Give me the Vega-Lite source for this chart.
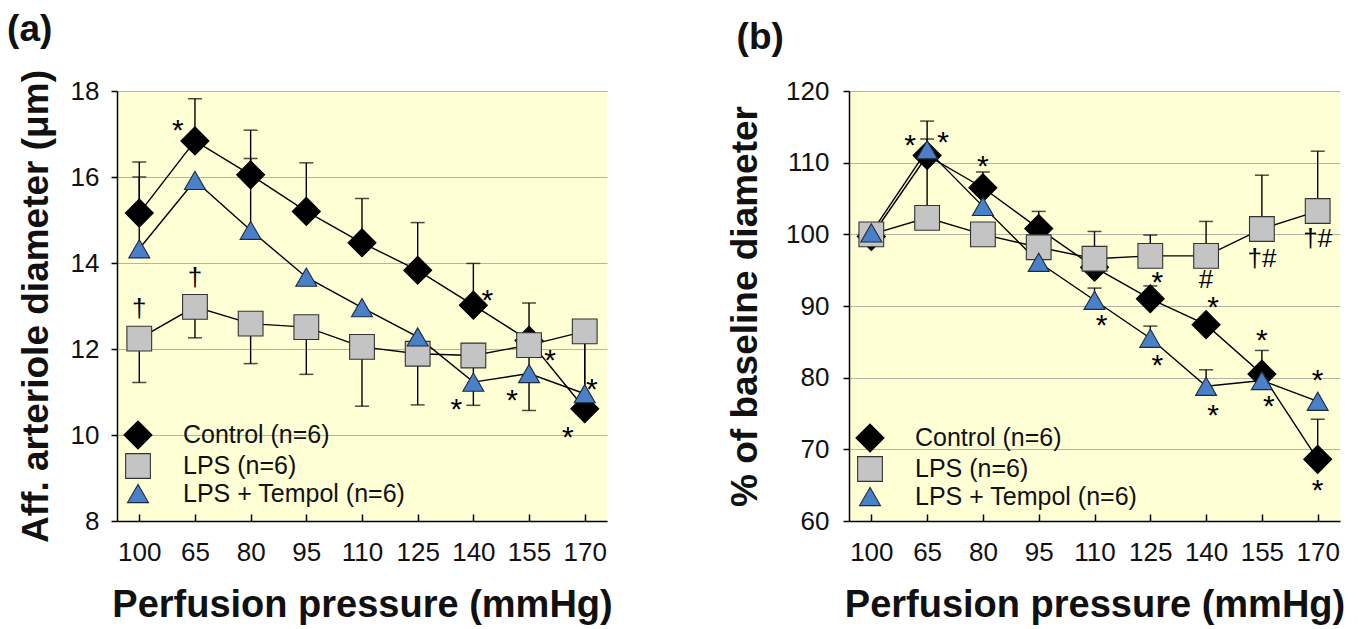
{
  "$schema": "https://vega.github.io/schema/vega-lite/v6.json",
  "background": "white",
  "padding": {"left": 7, "top": 10, "right": 5, "bottom": 2},
  "bounds": "flush",
  "spacing": 242,
  "config": {
    "font": "Liberation Sans",
    "view": {"fill": "#FFFFD5", "stroke": null},
    "axis": {
      "labelFont": "Liberation Sans", "labelFontSize": 26, "labelColor": "#111",
      "titleFont": "Liberation Sans", "titleFontSize": 37, "titleFontWeight": "bold", "titleColor": "#111",
      "domainColor": "#000", "domainWidth": 1.5, "tickColor": "#000", "tickWidth": 1.5,
      "gridColor": "#B4B4A4", "gridWidth": 1.2
    },
    "axisX": {"titleFontSize": 38},
    "legend": {"labelFont": "Liberation Sans", "labelFontSize": 25, "labelColor": "#111", "labelLimit": 0},
    "title": {"font": "Liberation Sans", "fontSize": 37, "fontWeight": "bold", "color": "#111"}
  },
  "resolve": {
    "scale": {"shape": "independent", "fill": "independent", "stroke": "independent", "size": "independent"},
    "legend": {"shape": "independent", "fill": "independent", "stroke": "independent", "size": "independent"}
  },
  "datasets": {
    "a": [
      {"p": "100", "g": "Control (n=6)", "v": 15.16, "err": 16.35},
      {"p": "65", "g": "Control (n=6)", "v": 16.84, "err": 17.82},
      {"p": "80", "g": "Control (n=6)", "v": 16.05, "err": 17.09},
      {"p": "95", "g": "Control (n=6)", "v": 15.2, "err": 16.33},
      {"p": "110", "g": "Control (n=6)", "v": 14.47, "err": 15.5},
      {"p": "125", "g": "Control (n=6)", "v": 13.83, "err": 14.94},
      {"p": "140", "g": "Control (n=6)", "v": 13.02, "err": 13.99},
      {"p": "155", "g": "Control (n=6)", "v": 12.2, "err": 13.07},
      {"p": "170", "g": "Control (n=6)", "v": 10.61, "err": 12.26},
      {"p": "100", "g": "LPS (n=6)", "v": 12.24, "err": 11.22},
      {"p": "65", "g": "LPS (n=6)", "v": 12.98, "err": 12.26},
      {"p": "80", "g": "LPS (n=6)", "v": 12.59, "err": 11.66},
      {"p": "95", "g": "LPS (n=6)", "v": 12.51, "err": 11.41},
      {"p": "110", "g": "LPS (n=6)", "v": 12.05, "err": 10.67},
      {"p": "125", "g": "LPS (n=6)", "v": 11.89, "err": 10.7},
      {"p": "140", "g": "LPS (n=6)", "v": 11.85, "err": 10.69},
      {"p": "155", "g": "LPS (n=6)", "v": 12.09, "err": 10.57},
      {"p": "170", "g": "LPS (n=6)", "v": 12.41},
      {"p": "100", "g": "LPS + Tempol (n=6)", "v": 14.33, "err": 16.0},
      {"p": "65", "g": "LPS + Tempol (n=6)", "v": 15.92},
      {"p": "80", "g": "LPS + Tempol (n=6)", "v": 14.76, "err": 16.43},
      {"p": "95", "g": "LPS + Tempol (n=6)", "v": 13.67},
      {"p": "110", "g": "LPS + Tempol (n=6)", "v": 12.96},
      {"p": "125", "g": "LPS + Tempol (n=6)", "v": 12.28},
      {"p": "140", "g": "LPS + Tempol (n=6)", "v": 11.23},
      {"p": "155", "g": "LPS + Tempol (n=6)", "v": 11.43},
      {"p": "170", "g": "LPS + Tempol (n=6)", "v": 10.96, "err": 12.15}
    ],
    "b": [
      {"p": "100", "g": "Control (n=6)", "v": 99.7},
      {"p": "65", "g": "Control (n=6)", "v": 111.0},
      {"p": "80", "g": "Control (n=6)", "v": 106.5, "err": 108.7},
      {"p": "95", "g": "Control (n=6)", "v": 100.8, "err": 103.2},
      {"p": "110", "g": "Control (n=6)", "v": 95.4},
      {"p": "125", "g": "Control (n=6)", "v": 91.0, "err": 92.8},
      {"p": "140", "g": "Control (n=6)", "v": 87.4},
      {"p": "155", "g": "Control (n=6)", "v": 80.5, "err": 83.8},
      {"p": "170", "g": "Control (n=6)", "v": 68.6, "err": 74.2},
      {"p": "100", "g": "LPS (n=6)", "v": 100.0},
      {"p": "65", "g": "LPS (n=6)", "v": 102.3, "err": 113.3},
      {"p": "80", "g": "LPS (n=6)", "v": 100.0},
      {"p": "95", "g": "LPS (n=6)", "v": 98.2},
      {"p": "110", "g": "LPS (n=6)", "v": 96.6, "err": 100.4},
      {"p": "125", "g": "LPS (n=6)", "v": 97.0, "err": 99.9},
      {"p": "140", "g": "LPS (n=6)", "v": 97.0, "err": 101.8},
      {"p": "155", "g": "LPS (n=6)", "v": 100.75, "err": 108.25},
      {"p": "170", "g": "LPS (n=6)", "v": 103.25, "err": 111.6},
      {"p": "100", "g": "LPS + Tempol (n=6)", "v": 100.2},
      {"p": "65", "g": "LPS + Tempol (n=6)", "v": 111.8, "err": 115.8},
      {"p": "80", "g": "LPS + Tempol (n=6)", "v": 103.9},
      {"p": "95", "g": "LPS + Tempol (n=6)", "v": 96.1, "err": 98.4},
      {"p": "110", "g": "LPS + Tempol (n=6)", "v": 90.8, "err": 92.5},
      {"p": "125", "g": "LPS + Tempol (n=6)", "v": 85.5, "err": 87.2},
      {"p": "140", "g": "LPS + Tempol (n=6)", "v": 78.8, "err": 81.1},
      {"p": "155", "g": "LPS + Tempol (n=6)", "v": 79.6},
      {"p": "170", "g": "LPS + Tempol (n=6)", "v": 76.7}
    ],
    "annA": [
      {"p": "65", "v": 17.2, "t": "*", "s": "l"},
      {"p": "100", "v": 12.94, "t": "†", "s": "c"},
      {"p": "65", "v": 13.64, "t": "†", "s": "c"},
      {"p": "140", "v": 13.25, "t": "*", "s": "r"},
      {"p": "155", "v": 11.87, "t": "*", "s": "rr"},
      {"p": "140", "v": 10.73, "t": "*", "s": "l"},
      {"p": "155", "v": 10.92, "t": "*", "s": "l"},
      {"p": "170", "v": 11.19, "t": "*", "s": "rn"},
      {"p": "170", "v": 10.07, "t": "*", "s": "l"}
    ],
    "annB": [
      {"p": "65", "v": 113.1, "t": "*", "s": "l"},
      {"p": "65", "v": 113.6, "t": "*", "s": "r"},
      {"p": "80", "v": 110.2, "t": "*", "s": "c"},
      {"p": "110", "v": 88.0, "t": "*", "s": "rn"},
      {"p": "125", "v": 94.1, "t": "*", "s": "rn"},
      {"p": "125", "v": 82.4, "t": "*", "s": "rn"},
      {"p": "140", "v": 93.6, "t": "#", "s": "c"},
      {"p": "140", "v": 90.5, "t": "*", "s": "rn"},
      {"p": "140", "v": 75.5, "t": "*", "s": "rn"},
      {"p": "155", "v": 85.9, "t": "*", "s": "c"},
      {"p": "155", "v": 76.7, "t": "*", "s": "rn"},
      {"p": "170", "v": 80.35, "t": "*", "s": "c"},
      {"p": "170", "v": 65.0, "t": "*", "s": "c"},
      {"p": "155", "v": 96.6, "t": "†#", "s": "c"},
      {"p": "170", "v": 99.4, "t": "†#", "s": "c"}
    ]
  },
  "hconcat": [
    {
      "title": {"text": "(a)", "anchor": "start", "frame": "bounds", "dx": -10, "offset": 21},
      "width": 490,
      "height": 430,
      "encoding": {
        "x": {"field": "p", "type": "ordinal", "sort": ["100", "65", "80", "95", "110", "125", "140", "155", "170"],
          "scale": {"type": "point", "padding": 0.4},
          "axis": {"title": "Perfusion pressure (mmHg)", "labelAngle": 0, "tickSize": -7, "labelPadding": 25, "titlePadding": 21, "grid": false}}
      },
      "layer": [
        {
          "data": {"name": "a"},
          "mark": {"type": "line", "color": "#000", "strokeWidth": 1.4},
          "encoding": {
            "y": {"field": "v", "type": "quantitative", "scale": {"domain": [8, 18], "nice": false, "zero": false},
              "axis": {"values": [8, 10, 12, 14, 16, 18], "title": "Aff. arteriole diameter (μm)", "tickSize": 6, "labelPadding": 12, "titlePadding": 15, "grid": true}},
            "detail": {"field": "g"},
            "order": {"value": null}
          }
        },
        {
          "data": {"name": "a"},
          "transform": [{"filter": "datum.err != null"}],
          "mark": {"type": "rule", "color": "#000", "strokeWidth": 1.4},
          "encoding": {"y": {"field": "v", "type": "quantitative"}, "y2": {"field": "err"}}
        },
        {
          "data": {"name": "a"},
          "transform": [{"filter": "datum.err != null"}],
          "mark": {"type": "tick", "color": "#000", "thickness": 1.5, "size": 14},
          "encoding": {"y": {"field": "err", "type": "quantitative"}}
        },
        {
          "data": {"name": "a"},
          "mark": {"type": "point", "filled": true, "opacity": 1, "strokeWidth": 1.1},
          "encoding": {
            "y": {"field": "v", "type": "quantitative"},
            "shape": {"field": "g", "type": "nominal", "scale": {"domain": ["Control (n=6)", "LPS (n=6)", "LPS + Tempol (n=6)"], "range": ["diamond", "square", "triangle-up"]},
              "legend": {"title": null, "orient": "none", "legendX": 6, "legendY": 329, "padding": 0, "rowPadding": -1, "labelOffset": 30, "symbolStrokeWidth": 1.1}},
            "fill": {"field": "g", "type": "nominal", "scale": {"domain": ["Control (n=6)", "LPS (n=6)", "LPS + Tempol (n=6)"], "range": ["#000000", "#C4C4C4", "#4A80C8"]}},
            "stroke": {"field": "g", "type": "nominal", "scale": {"domain": ["Control (n=6)", "LPS (n=6)", "LPS + Tempol (n=6)"], "range": ["#000000", "#333333", "#1E2A3C"]}},
            "size": {"field": "g", "type": "nominal", "scale": {"domain": ["Control (n=6)", "LPS (n=6)", "LPS + Tempol (n=6)"], "range": [784, 441, 600]}}
          }
        },
        {"data": {"name": "annA"}, "transform": [{"filter": "datum.s == 'l' && datum.t == '*'"}], "mark": {"type": "text", "fontSize": 30, "dx": -17, "dy": 6, "color": "#000"}, "encoding": {"y": {"field": "v", "type": "quantitative"}, "text": {"field": "t"}}},
        {"data": {"name": "annA"}, "transform": [{"filter": "datum.s == 'r' && datum.t == '*'"}], "mark": {"type": "text", "fontSize": 30, "dx": 14, "dy": 6, "color": "#000"}, "encoding": {"y": {"field": "v", "type": "quantitative"}, "text": {"field": "t"}}},
        {"data": {"name": "annA"}, "transform": [{"filter": "datum.s == 'rr' && datum.t == '*'"}], "mark": {"type": "text", "fontSize": 30, "dx": 21, "dy": 6, "color": "#000"}, "encoding": {"y": {"field": "v", "type": "quantitative"}, "text": {"field": "t"}}},
        {"data": {"name": "annA"}, "transform": [{"filter": "datum.s == 'rn' && datum.t == '*'"}], "mark": {"type": "text", "fontSize": 30, "dx": 7, "dy": 6, "color": "#000"}, "encoding": {"y": {"field": "v", "type": "quantitative"}, "text": {"field": "t"}}},
        {"data": {"name": "annA"}, "transform": [{"filter": "datum.s == 'c' && datum.t == '*'"}], "mark": {"type": "text", "fontSize": 30, "dx": 0, "dy": 6, "color": "#000"}, "encoding": {"y": {"field": "v", "type": "quantitative"}, "text": {"field": "t"}}},
        {"data": {"name": "annA"}, "transform": [{"filter": "datum.t != '*'"}], "mark": {"type": "text", "fontSize": 26, "dx": 0, "dy": 0, "color": "#000"}, "encoding": {"y": {"field": "v", "type": "quantitative"}, "text": {"field": "t"}}}
      ]
    },
    {
      "title": {"text": "(b)", "anchor": "start", "frame": "bounds", "dx": 10, "offset": 21},
      "width": 491,
      "height": 430,
      "encoding": {
        "x": {"field": "p", "type": "ordinal", "sort": ["100", "65", "80", "95", "110", "125", "140", "155", "170"],
          "scale": {"type": "point", "padding": 0.4},
          "axis": {"title": "Perfusion pressure (mmHg)", "labelAngle": 0, "tickSize": -7, "labelPadding": 25, "titlePadding": 21, "grid": false}}
      },
      "layer": [
        {
          "data": {"name": "b"},
          "mark": {"type": "line", "color": "#000", "strokeWidth": 1.4},
          "encoding": {
            "y": {"field": "v", "type": "quantitative", "scale": {"domain": [60, 120], "nice": false, "zero": false},
              "axis": {"values": [60, 70, 80, 90, 100, 110, 120], "title": "% of baseline diameter", "tickSize": 6, "labelPadding": 14, "titlePadding": 21, "grid": true}},
            "detail": {"field": "g"},
            "order": {"value": null}
          }
        },
        {
          "data": {"name": "b"},
          "transform": [{"filter": "datum.err != null"}],
          "mark": {"type": "rule", "color": "#000", "strokeWidth": 1.4},
          "encoding": {"y": {"field": "v", "type": "quantitative"}, "y2": {"field": "err"}}
        },
        {
          "data": {"name": "b"},
          "transform": [{"filter": "datum.err != null"}],
          "mark": {"type": "tick", "color": "#000", "thickness": 1.5, "size": 14},
          "encoding": {"y": {"field": "err", "type": "quantitative"}}
        },
        {
          "data": {"name": "b"},
          "mark": {"type": "point", "filled": true, "opacity": 1, "strokeWidth": 1.1},
          "encoding": {
            "y": {"field": "v", "type": "quantitative"},
            "shape": {"field": "g", "type": "nominal", "scale": {"domain": ["Control (n=6)", "LPS (n=6)", "LPS + Tempol (n=6)"], "range": ["diamond", "square", "triangle-up"]},
              "legend": {"title": null, "orient": "none", "legendX": 6, "legendY": 332, "padding": 0, "rowPadding": -1, "labelOffset": 30, "symbolStrokeWidth": 1.1}},
            "fill": {"field": "g", "type": "nominal", "scale": {"domain": ["Control (n=6)", "LPS (n=6)", "LPS + Tempol (n=6)"], "range": ["#000000", "#C4C4C4", "#4A80C8"]}},
            "stroke": {"field": "g", "type": "nominal", "scale": {"domain": ["Control (n=6)", "LPS (n=6)", "LPS + Tempol (n=6)"], "range": ["#000000", "#333333", "#1E2A3C"]}},
            "size": {"field": "g", "type": "nominal", "scale": {"domain": ["Control (n=6)", "LPS (n=6)", "LPS + Tempol (n=6)"], "range": [784, 441, 600]}}
          }
        },
        {"data": {"name": "annB"}, "transform": [{"filter": "datum.s == 'l' && datum.t == '*'"}], "mark": {"type": "text", "fontSize": 30, "dx": -17, "dy": 6, "color": "#000"}, "encoding": {"y": {"field": "v", "type": "quantitative"}, "text": {"field": "t"}}},
        {"data": {"name": "annB"}, "transform": [{"filter": "datum.s == 'r' && datum.t == '*'"}], "mark": {"type": "text", "fontSize": 30, "dx": 16, "dy": 6, "color": "#000"}, "encoding": {"y": {"field": "v", "type": "quantitative"}, "text": {"field": "t"}}},
        {"data": {"name": "annB"}, "transform": [{"filter": "datum.s == 'rn' && datum.t == '*'"}], "mark": {"type": "text", "fontSize": 30, "dx": 7, "dy": 6, "color": "#000"}, "encoding": {"y": {"field": "v", "type": "quantitative"}, "text": {"field": "t"}}},
        {"data": {"name": "annB"}, "transform": [{"filter": "datum.s == 'c' && datum.t == '*'"}], "mark": {"type": "text", "fontSize": 30, "dx": 0, "dy": 6, "color": "#000"}, "encoding": {"y": {"field": "v", "type": "quantitative"}, "text": {"field": "t"}}},
        {"data": {"name": "annB"}, "transform": [{"filter": "datum.t != '*'"}], "mark": {"type": "text", "fontSize": 26, "dx": 0, "dy": 0, "color": "#000"}, "encoding": {"y": {"field": "v", "type": "quantitative"}, "text": {"field": "t"}}}
      ]
    }
  ]
}
